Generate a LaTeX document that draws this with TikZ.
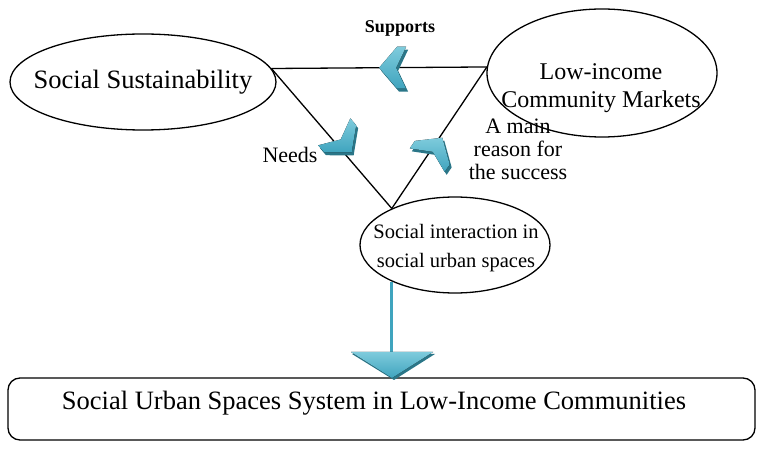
\documentclass[tikz,border=0pt]{standalone}
\usepackage{fontspec}
\setmainfont{Liberation Serif}
\usetikzlibrary{shapes.geometric, positioning}

\definecolor{chevface}{HTML}{3FA4BE}
\definecolor{chevlight}{HTML}{7ECBDC}
\definecolor{chevshade}{HTML}{2A7688}

\begin{document}
\begin{tikzpicture}[x=1pt, y=-1pt]

    % Define styles for the nodes
    \tikzset{
        bubble/.style = {ellipse, draw=black, line width=1.3pt, inner sep=0pt},
        sysbox/.style = {rectangle, rounded corners=12pt, draw=black, line width=1.3pt,
                         minimum width=747pt, minimum height=62pt},
        edge/.style = {line width=1.3pt},
        lbl/.style = {align=center, inner sep=0pt},
        % chevron with its tip at the origin, turned by #1
        pics/chevron/.style = {code={
            \fill[chevshade, shift={(2,3)}, rotate=#1]
                (0,0) -- (-18,-21) -- (-27,-21) -- (-17,0) -- (-27,21) -- (-18,21) -- cycle;
            \fill[top color=chevlight, bottom color=chevface, rotate=#1]
                (0,0) -- (-18,-21) -- (-27,-21) -- (-17,0) -- (-27,21) -- (-18,21) -- cycle;
        }}
    }
    \useasboundingbox (0,0) rectangle (764,457);

    % Nodes
    \node (soc) [bubble, minimum width=266pt, minimum height=96pt] at (143,82) {};
    \node (socText) [lbl, font=\fontsize{26.5}{30}\selectfont] at (soc) {Social Sustainability};
    \node (mkt) [bubble, minimum width=230pt, minimum height=128pt] at (602,73) {};
    \node (mktText) [lbl, font=\fontsize{24}{28}\selectfont] at (601,88) {Low-income\\Community Markets};
    \node (inter) [bubble, minimum width=190pt, minimum height=96pt] at (455,245) {};
    \node (interText) [lbl, font=\fontsize{20.5}{28.5}\selectfont] at (456,248)
        {Social interaction in\\social urban spaces};
    \node (sys) [sysbox] at (381.5,409) {};
    \node (sysText) [lbl, font=\fontsize{26.5}{30}\selectfont] at (374,403)
        {Social Urban Spaces System in Low-Income Communities};

    % Labels
    \node (supports) [lbl, font=\fontsize{18}{20}\selectfont\bfseries] at (400,28) {Supports};
    \node (needs) [lbl, font=\fontsize{22}{23}\selectfont] at (290,155) {Needs};
    \node (reason) [lbl, font=\fontsize{22}{23}\selectfont] at (518,149) {A main\\reason for\\the success};

    % Triangle
    \coordinate (apex) at (inter.150);
    \draw [edge] (soc.6) -- (mkt.177) coordinate[pos=0.5] (supportsTip);
    \draw [edge] (soc.6) -- (apex) coordinate[pos=0.6] (needsTip);
    \draw [edge] (apex) -- (mkt.177) coordinate[pos=0.5] (reasonTip);

    % Chevrons on the sides
    \pic at (supportsTip) {chevron=180};
    \pic at ([xshift=8]needsTip) {chevron=-50};
    \pic at ([xshift=3]reasonTip) {chevron=56};

    % Down arrow to the system box
    \coordinate (dn) at (392,352);
    \draw [chevface, line width=3pt] (inter.210) -- (inter.210 |- dn);
    \fill [chevshade] (dn) ++(-40,2) -- ++(83,0) -- ++(-41,26) -- cycle;
    \fill [top color=chevlight, bottom color=chevface] (dn) ++(-41,0) -- ++(82,0) -- ++(-41,26) -- cycle;

\end{tikzpicture}
\end{document}
